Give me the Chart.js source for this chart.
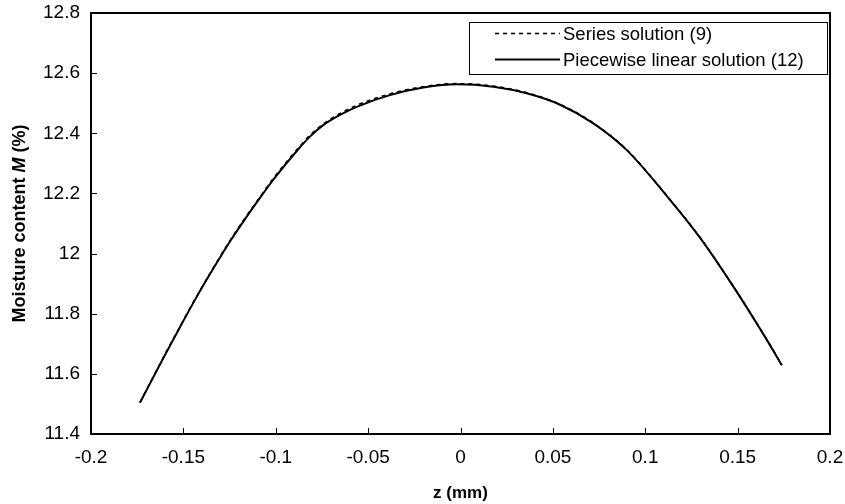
<!DOCTYPE html>
<html>
<head>
<meta charset="utf-8">
<script src="https://cdn.jsdelivr.net/npm/chart.js@4/dist/chart.umd.min.js"></script>
<style>
html,body{margin:0;padding:0;background:#fff;}
#wrap{width:845px;height:504px;}
</style>
</head>
<body>
<div id="wrap"><canvas id="c" width="845" height="504"></canvas></div>
<script>
const xTicks = [-0.2, -0.15, -0.1, -0.05, 0, 0.05, 0.1, 0.15, 0.2];
const xTickLabels = ["-0.2", "-0.15", "-0.1", "-0.05", "0", "0.05", "0.1", "0.15", "0.2"];
const yTicks = [11.4, 11.6, 11.8, 12, 12.2, 12.4, 12.6, 12.8];
const yTickLabels = ["11.4", "11.6", "11.8", "12", "12.2", "12.4", "12.6", "12.8"];

const zPiecewise = [-0.1735, -0.1609, -0.1518, -0.1428, -0.1338, -0.1248, -0.1157, -0.1067, -0.1013, -0.0878, -0.0815, -0.0743, -0.0652, -0.0562, -0.0382, -0.0201, -0.0021, 0.0178, 0.0358, 0.0539, 0.0719, 0.0900, 0.1116, 0.1296, 0.1477, 0.1658, 0.1739];
const mPiecewise = [11.504, 11.652, 11.756, 11.856, 11.950, 12.040, 12.123, 12.201, 12.246, 12.347, 12.389, 12.427, 12.461, 12.488, 12.527, 12.552, 12.563, 12.555, 12.533, 12.495, 12.433, 12.344, 12.192, 12.053, 11.890, 11.713, 11.629];

const zSeries = [-0.1735, -0.1609, -0.1518, -0.1428, -0.1338, -0.1248, -0.1157, -0.1067, -0.1013, -0.0878, -0.0815, -0.0743, -0.0652, -0.0562, -0.0382, -0.0201, -0.0021, 0.0178, 0.0358, 0.0539, 0.0719, 0.0900, 0.1116, 0.1296, 0.1477, 0.1658, 0.1739];
const mSeries = [11.505, 11.654, 11.758, 11.858, 11.952, 12.043, 12.126, 12.204, 12.250, 12.351, 12.393, 12.431, 12.466, 12.493, 12.531, 12.555, 12.565, 12.557, 12.535, 12.496, 12.434, 12.345, 12.193, 12.054, 11.891, 11.714, 11.630];

const seriesLabels = ["Series solution (9)", "Piecewise linear solution (12)"];
const xTitle = "z (mm)";
const yTitleParts = [["Moisture content ", false], ["M", true], [" (%)", false]];

const FONT = "Liberation Sans, Arial, Helvetica, sans-serif";

function pts(xs, ys){ return xs.map((x,i)=>({x:x, y:ys[i]})); }

const framePlugin = {
  id: 'frame',
  afterDraw(chart){
    const ctx = chart.ctx, a = chart.chartArea;
    const xs = chart.scales.x, ys = chart.scales.y;
    ctx.save();
    ctx.strokeStyle = '#000';
    ctx.lineWidth = 2;
    ctx.strokeRect(a.left, a.top, a.right - a.left, a.bottom - a.top);
    ctx.lineWidth = 1;
    ctx.beginPath();
    xTicks.forEach(v=>{
      const px = Math.round(xs.getPixelForValue(v)) + 0.5;
      ctx.moveTo(px, a.bottom); ctx.lineTo(px, a.bottom - 6);
    });
    yTicks.forEach(v=>{
      const py = Math.round(ys.getPixelForValue(v)) + 0.5;
      ctx.moveTo(a.left, py); ctx.lineTo(a.left + 6, py);
    });
    ctx.stroke();

    // y title
    ctx.fillStyle = '#000';
    ctx.textBaseline = 'middle';
    ctx.translate(20, (a.top + a.bottom) / 2);
    ctx.rotate(-Math.PI/2);
    let total = 0;
    const fs = 18;
    yTitleParts.forEach(p=>{ ctx.font = (p[1]?'italic ':'') + 'bold ' + fs + 'px ' + FONT; total += ctx.measureText(p[0]).width; });
    let x0 = -total/2;
    ctx.textAlign = 'left';
    yTitleParts.forEach(p=>{ ctx.font = (p[1]?'italic ':'') + 'bold ' + fs + 'px ' + FONT; ctx.fillText(p[0], x0, 0); x0 += ctx.measureText(p[0]).width; });
    ctx.restore();

    // legend
    ctx.save();
    const lx = 469.5, ly = 22.5, lw = 358, lh = 52;
    ctx.fillStyle = '#fff';
    ctx.fillRect(lx, ly, lw, lh);
    ctx.strokeStyle = '#000';
    ctx.lineWidth = 1;
    ctx.strokeRect(lx, ly, lw, lh);
    ctx.font = '18.5px ' + FONT;
    ctx.textBaseline = 'middle';
    ctx.fillStyle = '#000';
    const rows = [33.5, 59.5];
    chart.data.datasets.forEach((ds, i)=>{
      ctx.beginPath();
      ctx.lineWidth = ds.borderWidth;
      ctx.setLineDash(ds.borderDash || []);
      ctx.moveTo(495, rows[i]); ctx.lineTo(560, rows[i]);
      ctx.stroke();
      ctx.setLineDash([]);
      ctx.fillText(ds.label, 563, rows[i] + 1);
    });
    ctx.restore();
  }
};

new Chart(document.getElementById('c'), {
  type: 'scatter',
  data: {
    datasets: [
      { label: seriesLabels[0], data: pts(zSeries, mSeries), showLine: true, borderColor: '#000', borderWidth: 1.6, borderDash: [4,4], pointRadius: 0, cubicInterpolationMode: 'monotone', fill: false },
      { label: seriesLabels[1], data: pts(zPiecewise, mPiecewise), showLine: true, borderColor: '#000', borderWidth: 2, pointRadius: 0, cubicInterpolationMode: 'monotone', fill: false }
    ]
  },
  options: {
    responsive: false,
    animation: false,
    layout: { padding: { top: 13, right: 15, left: 0, bottom: 0 } },
    plugins: { legend: { display: false }, tooltip: { enabled: false } },
    scales: {
      x: {
        type: 'linear', min: -0.2, max: 0.2,
        afterBuildTicks(s){ s.ticks = xTicks.map(v=>({value:v})); },
        afterFit(s){ s.height = 70; s.paddingLeft = 0; s.paddingRight = 0; },
        grid: { display: false, drawTicks: false },
        border: { display: false },
        ticks: { padding: 12, color: '#000', font: { size: 19, family: FONT }, maxRotation: 0,
          callback(v){ const i = xTicks.findIndex(t=>Math.abs(t-v)<1e-9); return i>=0 ? xTickLabels[i] : ''; } },
        title: { display: true, text: xTitle, color: '#000', font: { size: 17, weight: 'bold', family: FONT }, padding: { top: 6, bottom: 0 } }
      },
      y: {
        type: 'linear', min: 11.4, max: 12.8,
        afterBuildTicks(s){ s.ticks = yTicks.map(v=>({value:v})); },
        afterFit(s){ s.width = 91; s.paddingTop = 0; s.paddingBottom = 0; },
        grid: { display: false, drawTicks: false },
        border: { display: false },
        ticks: { padding: 11, color: '#000', font: { size: 19, family: FONT },
          callback(v){ const i = yTicks.findIndex(t=>Math.abs(t-v)<1e-9); return i>=0 ? yTickLabels[i] : ''; } }
      }
    }
  },
  plugins: [framePlugin]
});
</script>
</body>
</html>
